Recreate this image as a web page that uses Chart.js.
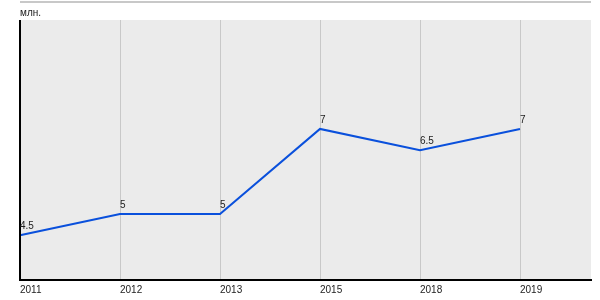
<!DOCTYPE html>
<html>
<head>
<meta charset="utf-8">
<script src="https://cdn.jsdelivr.net/npm/chart.js@4/dist/chart.umd.min.js"></script>
<style>
    body { margin: 0; background: #fff; }
    #wrap { width: 600px; height: 300px; }
</style>
</head>
<body>
<div id="wrap"><canvas id="population_chart"></canvas></div>
<script>
const years = ['2011', '2012', '2013', '2015', '2018', '2019'];
const values = [4.5, 5, 5, 7, 6.5, 7];
const value_labels = ['4.5', '5', '5', '7', '6.5', '7'];
const unit_label = 'млн.';

const line_color = '#0a50dc';
const plot_gray = '#ebebeb';
const grid_gray = '#c8c8c8';

// grey plot box, black left axis line, top rule and unit text
const plot_box = {
    id: 'plot_box',
    beforeDraw(chart) {
        const ctx = chart.ctx;
        const a = chart.chartArea;
        ctx.save();
        ctx.fillStyle = plot_gray;
        ctx.fillRect(a.left, a.top, a.right - a.left, a.bottom - a.top);
        ctx.strokeStyle = grid_gray;
        ctx.lineWidth = 2;
        ctx.beginPath();
        ctx.moveTo(a.left, 2);
        ctx.lineTo(a.right, 2);
        ctx.stroke();
        ctx.fillStyle = '#222';
        ctx.font = '10px Arial, "Liberation Sans", sans-serif';
        ctx.textBaseline = 'alphabetic';
        ctx.fillText(unit_label, a.left, 16);
        ctx.restore();
    },
    afterDatasetsDraw(chart) {
        const ctx = chart.ctx;
        const a = chart.chartArea;
        ctx.save();
        ctx.strokeStyle = '#000';
        ctx.lineWidth = 2;
        ctx.beginPath();
        ctx.moveTo(a.left, a.top);
        ctx.lineTo(a.left, a.bottom);
        ctx.stroke();
        // value labels
        ctx.fillStyle = '#222';
        ctx.font = '10px Arial, "Liberation Sans", sans-serif';
        ctx.textAlign = 'left';
        ctx.textBaseline = 'alphabetic';
        chart.getDatasetMeta(0).data.forEach((pt, i) => {
            ctx.fillText(value_labels[i], pt.x, pt.y - 6);
        });
        ctx.restore();
    }
};

new Chart(document.getElementById('population_chart'), {
    type: 'line',
    data: {
        datasets: [{
            data: values.map((v, i) => ({ x: i, y: v })),
            borderColor: line_color,
            borderWidth: 2,
            pointRadius: 0,
            tension: 0,
            fill: false,
            clip: false,
        }]
    },
    options: {
        responsive: true,
        maintainAspectRatio: false,
        animation: false,
        layout: { padding: { left: 20, right: 9, top: 20, bottom: 0 } },
        plugins: {
            legend: false,
            tooltip: { enabled: false }
        },
        scales: {
            x: {
                type: 'linear',
                min: 0,
                max: 5.71,
                ticks: {
                    stepSize: 1,
                    includeBounds: false,
                    align: 'start',
                    padding: 4,
                    color: '#222',
                    font: { family: 'Arial, "Liberation Sans", sans-serif', size: 10 },
                    callback: (v) => years[v] !== undefined && Number.isInteger(v) ? years[v] : ''
                },
                grid: {
                    color: grid_gray,
                    lineWidth: 1,
                    drawTicks: false,
                },
                border: { display: true, color: '#000', width: 2 }
            },
            y: {
                display: false,
                min: 3.45,
                max: 9.56,
            }
        }
    },
    plugins: [plot_box]
});
</script>
</body>
</html>
